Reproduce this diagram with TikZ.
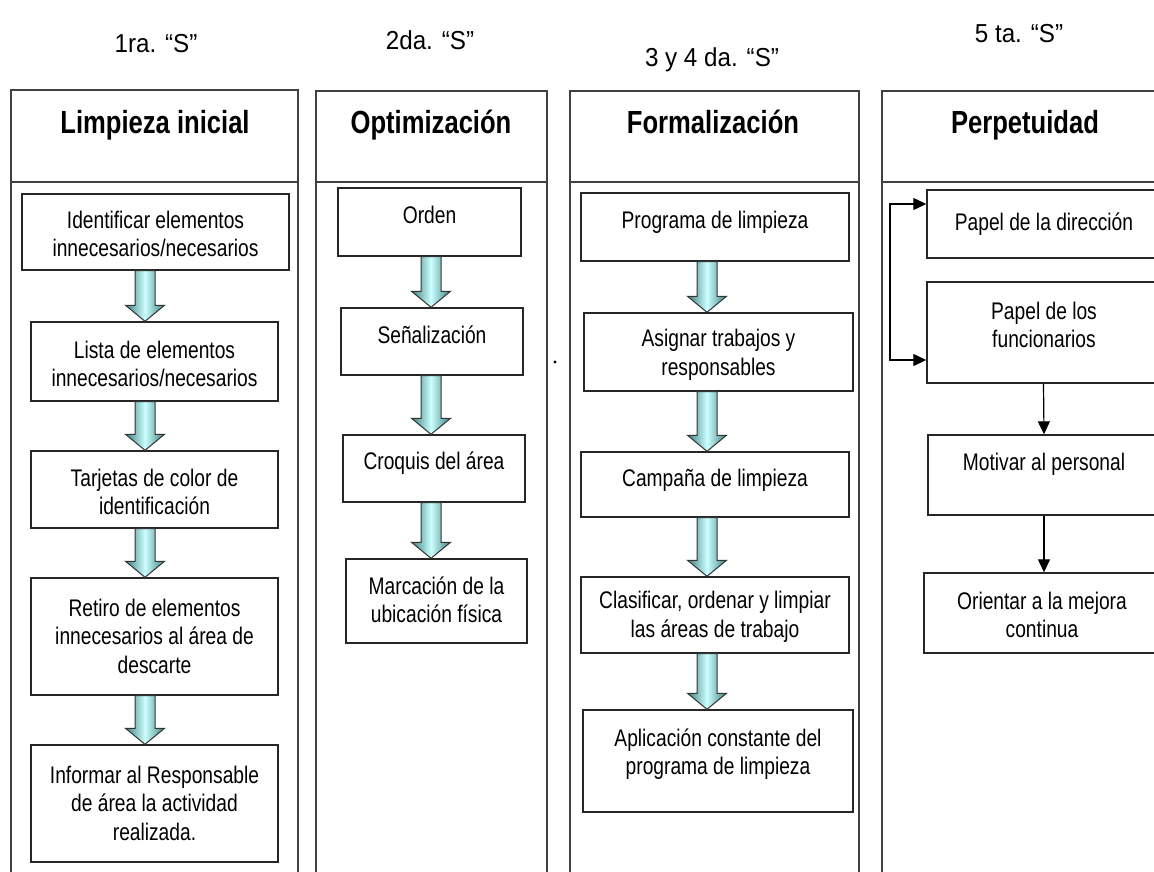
\documentclass[tikz,border=0pt]{standalone}
\usepackage{fontspec}
\setmainfont{Liberation Sans}[FakeStretch=0.8]
\newfontfamily\hdrfont{Liberation Sans}[FakeStretch=0.93]
\usetikzlibrary{arrows.meta,calc}
\definecolor{arrdark}{HTML}{3E7F80}
\definecolor{arrlight}{HTML}{CCFFFF}
\tikzset{
 >={Triangle[width=12pt,length=13pt]},
 box/.style={draw=black!85, line width=1.4pt, fill=white, inner sep=0pt},
 btext/.style={align=center, font=\fontsize{24}{28.5}\selectfont, inner sep=0pt},
 col/.style={draw=black!75, line width=1.8pt},
 hdr/.style={font=\hdrfont\fontsize{26}{30}\selectfont, anchor=base},
 ttl/.style={font=\fontsize{32}{36}\selectfont\bfseries, anchor=base},
 thin/.style={draw=black, line width=1.2pt},
}
\newcommand\barrow[3]{%
 \path[draw=black!80, line width=1pt, left color=arrdark, right color=arrdark, middle color=arrlight]
 let \p1=(#2.south), \p2=(#3.north) in
 (#1pt-10pt,\y1) -- (#1pt+10pt,\y1) -- (#1pt+10pt,\y2+16pt) -- (#1pt+19.5pt,\y2+16pt) -- (#1pt,\y2) -- (#1pt-19.5pt,\y2+16pt) -- (#1pt-10pt,\y2+16pt) -- cycle;}
\begin{document}
\begin{tikzpicture}[x=1pt,y=-1pt]
\useasboundingbox (0,0) rectangle (1154,871);
\clip (0,0) rectangle (1154,871);
% columns
\draw[col] (11,880) -- (11,90) -- (298,90) -- (298,880); \draw[col] (11,182) -- (298,182);
\draw[col] (316,880) -- (316,91) -- (547,91) -- (547,880); \draw[col] (316,182) -- (547,182);
\draw[col] (570,880) -- (570,91) -- (859,91) -- (859,880); \draw[col] (570,182) -- (859,182);
\draw[col] (882,880) -- (882,91) -- (1175,91); \draw[col] (882,182) -- (1175,182);
% headers
\node[hdr] (h1) at (156,52) {1ra. “S”};
\node[hdr] (h2) at (430,49) {2da. “S”};
\node[hdr] (h3) at (712,66) {3 y 4 da. “S”};
\node[hdr] (h4) at (1019,42) {5 ta. “S”};
\node[ttl] (t1) at (155,133) {Limpieza inicial};
\node[ttl] (t2) at (431,133) {Optimización};
\node[ttl] (t3) at (713,133) {Formalización};
\node[ttl] (t4) at (1025,133) {Perpetuidad};
% column 1
\node[box, minimum width=267pt, minimum height=76pt] (b11) at (155.5,232) {};
\node[btext] (b11t) at (155.5,234) {Identificar elementos\\innecesarios/necesarios};
\node[box, minimum width=247pt, minimum height=79pt] (b12) at (154.5,361.5) {};
\node[btext] (b12t) at (154.5,364) {Lista de elementos\\innecesarios/necesarios};
\node[box, minimum width=247pt, minimum height=77pt] (b13) at (154.5,489.5) {};
\node[btext] (b13t) at (154.5,492) {Tarjetas de color de\\identificación};
\node[box, minimum width=247pt, minimum height=117pt] (b14) at (154.5,636.5) {};
\node[btext] (b14t) at (154.5,636) {Retiro de elementos\\innecesarios al área de\\descarte};
\node[box, minimum width=247pt, minimum height=117pt] (b15) at (154.5,803.5) {};
\node[btext] (b15t) at (154.5,803) {Informar al Responsable\\de área la actividad\\realizada.};
\barrow{145}{b11}{b12}
\barrow{145}{b12}{b13}
\barrow{145}{b13}{b14}
\barrow{145}{b14}{b15}
% column 2
\node[box, minimum width=183pt, minimum height=68pt] (b21) at (429.5,222) {};
\node[btext] (b21t) at (429.5,215) {Orden};
\node[box, minimum width=182pt, minimum height=67pt] (b22) at (432,341.5) {};
\node[btext] (b22t) at (432,335) {Señalización};
\node[box, minimum width=182pt, minimum height=67pt] (b23) at (434,468.5) {};
\node[btext] (b23t) at (434,463) {Croquis del área};
\node[box, minimum width=181pt, minimum height=84pt] (b24) at (436.5,601) {};
\node[btext] (b24t) at (436.5,600) {Marcación de la\\ubicación física};
\barrow{431}{b21}{b22}
\barrow{431}{b22}{b23}
\barrow{431}{b23}{b24}
\fill (555,362) circle (1.6pt);
% column 3
\node[box, minimum width=268pt, minimum height=68pt] (b31) at (715,227) {};
\node[btext] (b31t) at (715,222) {Programa de limpieza};
\node[box, minimum width=269pt, minimum height=78pt] (b32) at (718.5,352) {};
\node[btext] (b32t) at (718.5,355) {Asignar trabajos y\\responsables};
\node[box, minimum width=268pt, minimum height=65pt] (b33) at (715,484.5) {};
\node[btext] (b33t) at (715,480) {Campaña de limpieza};
\node[box, minimum width=268pt, minimum height=76pt] (b34) at (715,615) {};
\node[btext] (b34t) at (715,617) {Clasificar, ordenar y limpiar\\las áreas de trabajo};
\node[box, minimum width=270pt, minimum height=102pt] (b35) at (718,761) {};
\node[btext] (b35t) at (718,754) {Aplicación constante del\\programa de limpieza};
\barrow{707}{b31}{b32}
\barrow{707}{b32}{b33}
\barrow{707}{b33}{b34}
\barrow{707}{b34}{b35}
% column 4
\node[box, minimum width=233pt, minimum height=68pt] (b41) at (1043.5,224) {};
\node[btext] (b41t) at (1044,224) {Papel de la dirección};
\node[box, minimum width=233pt, minimum height=101pt] (b42) at (1043.5,332.5) {};
\node[btext] (b42t) at (1044,325) {Papel de los\\funcionarios};
\node[box, minimum width=232pt, minimum height=80pt] (b43) at (1044,475) {};
\node[btext] (b43t) at (1044,464) {Motivar al personal};
\node[box, minimum width=236pt, minimum height=80pt] (b44) at (1042,613) {};
\node[btext] (b44t) at (1042,615) {Orientar a la mejora\\continua};
\coordinate (lt) at (890,204);
\coordinate (lb) at (890,360);
\draw[thin, <->] (lt -| b41.west) -- (lt) -- (lb) -- (lb -| b42.west);
\draw[thin, ->] (b42.south) -- (b43.north);
\draw[thin, ->] (b43.south) -- (b43.south |- b44.north);
\end{tikzpicture}
\end{document}
